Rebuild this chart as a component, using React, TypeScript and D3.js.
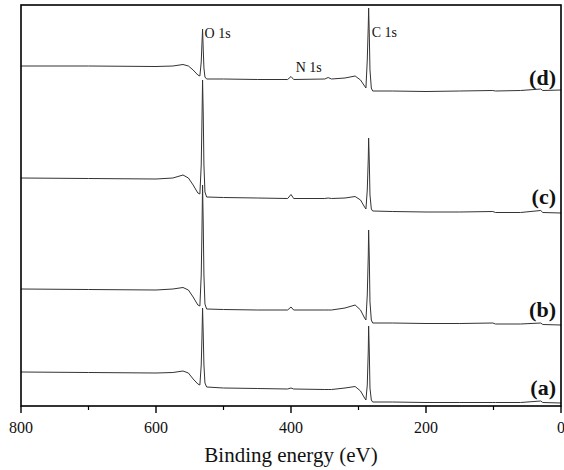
import React from "react";
import * as d3 from "d3";

// Binding energy grid (eV), shared by all four survey spectra
const bindingEnergy = [800, 700, 600, 575, 560, 552, 545, 538, 535, 533, 532, 531, 530, 529, 527.5, 525, 500, 450, 405, 400, 396, 350, 345, 340, 320, 305, 297, 291, 289, 287, 285.5, 285, 284, 283, 281, 279, 250, 200, 150, 101, 97, 60, 30, 27, 0];

// Offset intensities (a.u.)
const spectrumD = [340, 340, 339.5, 340, 341.5, 340, 336, 331, 330, 344, 361, 377, 356, 338, 329, 327, 327, 326.5, 326.5, 329.5, 326.5, 327, 328.5, 327, 328, 330, 326, 320, 318, 346, 381, 398, 371, 336, 318, 315, 315, 314.5, 315, 315.5, 315, 315.5, 317, 315.5, 316];
const spectrumC = [228, 227.5, 227, 228, 231, 228, 221, 213, 212, 241, 281, 326, 291, 241, 214, 209, 208.5, 208, 207.5, 211.5, 207.5, 207.5, 208, 207.5, 208, 209.5, 206, 199, 197, 216, 248, 268, 244, 211, 197, 195, 194.5, 194, 194, 194.5, 193.5, 193.5, 195.5, 193.5, 193];
const spectrumB = [117, 116.5, 116, 117, 118.5, 116, 109, 101, 100, 131, 171, 221, 181, 131, 102, 97, 96.5, 96, 96, 99, 96, 96, 96, 96, 98, 101, 96, 88, 86, 111, 151, 176, 148, 104, 86, 83, 83, 82.5, 82.5, 83, 82, 82, 83, 81.5, 81];
const spectrumA = [34, 33.5, 33, 33.5, 35, 33, 27, 22, 21, 41, 66, 98, 71, 41, 23, 19, 18, 17.5, 17, 18, 17, 16.5, 16.5, 16.5, 18, 19.5, 15, 8, 6, 21, 56, 80, 54, 18, 6, 4, 4, 3.5, 3.5, 3.5, 3.5, 3.5, 5, 3.5, 3];

const seriesLabels = ["(a)", "(b)", "(c)", "(d)"];
const seriesLabelY = [18, 96, 209, 328]; // intensity level of each label centre
const majorTicks = [800, 600, 400, 200, 0];
const minorTicks = [700, 500, 300, 100];
const peakLabels = [
  { text: "O 1s", be: 531, level: 373 },
  { text: "N 1s", be: 396, level: 339 },
  { text: "C 1s", be: 283.5, level: 374 },
];

const W = 564;
const H = 470;
const M = { left: 21, right: 3, top: 5, bottom: 64 };

export default function App() {
  const x = d3.scaleLinear().domain([800, 0]).range([M.left, W - M.right]);
  const y = d3.scaleLinear().domain([0, 401]).range([H - M.bottom, M.top]);
  const line = d3
    .line<[number, number]>()
    .x((d) => x(d[0]))
    .y((d) => y(d[1]));
  const series = [spectrumA, spectrumB, spectrumC, spectrumD];
  const font = "'Liberation Serif', 'Times New Roman', serif";
  const x0 = M.left;
  const x1 = W - M.right;
  const y0 = M.top;
  const y1 = H - M.bottom;

  return (
    <svg
      width={W}
      height={H}
      style={{ position: "absolute", left: 0, top: 0, background: "#fff" }}
      fontFamily={font}
    >
      <defs>
        <clipPath id="plot">
          <rect x={x0} y={y0} width={x1 - x0} height={y1 - y0} />
        </clipPath>
      </defs>
      <g clipPath="url(#plot)">
        {series.map((s, i) => (
          <path
            key={i}
            d={line(bindingEnergy.map((be, j) => [be, s[j]] as [number, number])) || ""}
            fill="none"
            stroke="#333"
            strokeWidth={1}
          />
        ))}
      </g>
      <rect x={x0} y={y0} width={x1 - x0} height={y1 - y0} fill="none" stroke="#000" strokeWidth={1.6} />
      {majorTicks.map((t) => (
        <g key={t}>
          <line x1={x(t)} x2={x(t)} y1={y1} y2={y1 + 7} stroke="#000" strokeWidth={1.4} />
          <text x={x(t)} y={y1 + 27} textAnchor="middle" fontSize={16} fill="#111">
            {t}
          </text>
        </g>
      ))}
      {minorTicks.map((t) => (
        <line key={t} x1={x(t)} x2={x(t)} y1={y1} y2={y1 + 4} stroke="#000" strokeWidth={1.2} />
      ))}
      <text x={(x0 + x1) / 2} y={H - 8} textAnchor="middle" fontSize={21} fill="#111">
        Binding energy (eV)
      </text>
      {peakLabels.map((p) => (
        <text key={p.text} x={x(p.be) + 2} y={y(p.level) + 5} fontSize={14} fill="#111">
          {p.text}
        </text>
      ))}
      {seriesLabels.map((l, i) => (
        <text
          key={l}
          x={x1 - 5}
          y={y(seriesLabelY[i]) + 7}
          textAnchor="end"
          fontSize={22}
          fontWeight="bold"
          fill="#111"
        >
          {l}
        </text>
      ))}
    </svg>
  );
}
